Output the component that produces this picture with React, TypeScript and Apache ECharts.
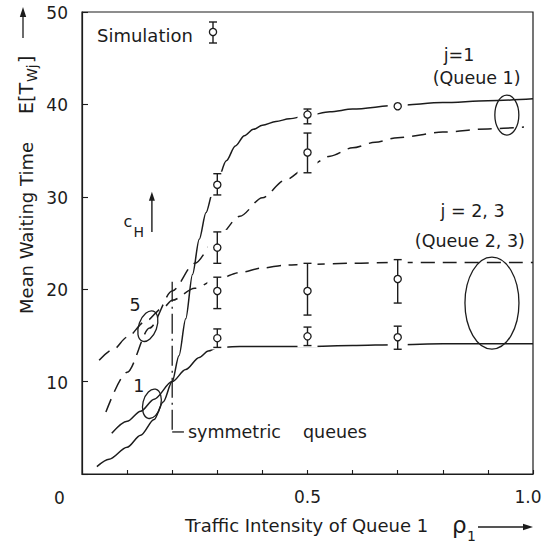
import React, { useEffect, useRef } from 'react';
import * as echarts from 'echarts';

// ---- data ----
// j = 1 (Queue 1), c_H = 1 : solid
const q1SolidX = [0.033, 0.06, 0.1, 0.13, 0.16, 0.18, 0.2, 0.215, 0.23, 0.245, 0.26, 0.275, 0.29, 0.3, 0.32, 0.34, 0.36, 0.38, 0.4, 0.43, 0.46, 0.5, 0.55, 0.6, 0.7, 0.8, 0.9, 1.0];
const q1SolidY = [0.8, 1.6, 2.9, 4.2, 5.9, 7.8, 10.0, 12.8, 16.8, 21.6, 25.4, 28.3, 30.5, 31.7, 33.9, 35.5, 36.6, 37.3, 37.75, 38.15, 38.45, 38.8, 39.2, 39.5, 39.9, 40.2, 40.4, 40.6];
// j = 1 (Queue 1), c_H = 5 : dashed
const q1DashX = [0.053, 0.1, 0.15, 0.2, 0.25, 0.3, 0.35, 0.4, 0.45, 0.5, 0.55, 0.6, 0.65, 0.7, 0.8, 0.9, 0.98];
const q1DashY = [6.7, 11.0, 15.8, 19.8, 22.8, 25.6, 27.9, 29.9, 31.8, 33.2, 34.4, 35.3, 35.9, 36.4, 37.0, 37.35, 37.55];
// j = 2,3 (Queue 2,3), c_H = 1 : solid
const q23SolidX = [0.066, 0.1, 0.13, 0.16, 0.2, 0.23, 0.26, 0.28, 0.3, 0.35, 0.4, 0.5, 0.6, 0.7, 0.8, 1.0];
const q23SolidY = [4.4, 5.7, 6.8, 8.1, 10.0, 11.3, 12.6, 13.3, 13.7, 13.8, 13.8, 13.8, 13.9, 14.0, 14.1, 14.1];
// j = 2,3 (Queue 2,3), c_H = 5 : dashed
const q23DashX = [0.038, 0.07, 0.1, 0.14, 0.18, 0.2, 0.25, 0.3, 0.35, 0.4, 0.45, 0.5, 0.6, 0.7, 0.8, 1.0];
const q23DashY = [12.3, 13.5, 14.8, 16.5, 18.0, 18.8, 20.1, 21.1, 21.8, 22.3, 22.6, 22.7, 22.8, 22.9, 22.9, 22.9];
// simulation points with confidence intervals
const simX = [0.3, 0.3, 0.3, 0.3, 0.5, 0.5, 0.5, 0.5, 0.7, 0.7, 0.7];
const simY = [31.3, 24.5, 19.8, 14.7, 38.9, 34.8, 19.8, 14.9, 39.8, 21.1, 14.8];
const simLow = [30.2, 22.8, 17.9, 13.7, 37.9, 32.6, 17.2, 13.9, 39.8, 18.5, 13.5];
const simHigh = [32.5, 26.2, 21.3, 15.7, 39.5, 36.9, 22.8, 15.9, 39.8, 23.2, 16.0];
// tick labels
const xLabelValues = [0.5, 1.0];
const xTickLabels = ['0.5', '1.0'];
const yLabelValues = [10, 20, 30, 40, 50];
const yTickLabels = ['10', '20', '30', '40', '50'];

const FONT = '"DejaVu Sans", sans-serif';
const INK = '#1c1c1c';

const zip = (xs: number[], ys: number[]) => xs.map((x, i) => [x, ys[i]]);

function txt(text: string, x: number, y: number, size: number, align = 'center', extra: any = {}) {
  return {
    type: 'text', x, y, silent: true, ...extra,
    style: {
      text, fontSize: size, fontFamily: FONT, fill: INK,
      textAlign: align, align, textVerticalAlign: 'middle', verticalAlign: 'middle',
    },
  };
}

export default function App() {
  const ref = useRef<HTMLDivElement>(null);
  useEffect(() => {
    document.body.style.margin = '0';
    const chart = echarts.init(ref.current!, null, { renderer: 'svg' });
    const lineSeries = (xs: number[], ys: number[], dashed: boolean) => ({
      type: 'line', data: zip(xs, ys), smooth: 0.3, smoothMonotone: 'x', symbol: 'none', showSymbol: false,
      silent: true, z: 2,
      lineStyle: { color: INK, width: 1.5, type: dashed ? [14, 8] : 'solid' },
    });
    chart.setOption({
      animation: false,
      grid: { left: 82, right: 9, top: 12, bottom: 72, show: true, borderColor: INK, borderWidth: 1.2, outerBoundsMode: 'none', containLabel: false },
      xAxis: {
        type: 'value', min: 0, max: 1, interval: 0.1,
        axisLine: { show: true, lineStyle: { color: INK, width: 1.2 } },
        axisTick: { show: true, inside: true, length: 4, lineStyle: { color: INK, width: 1.1 } },
        splitLine: { show: false },
        axisLabel: {
          margin: 14, fontSize: 17, fontFamily: FONT, color: INK,
          formatter: (v: number) => {
            const i = xLabelValues.findIndex((t) => Math.abs(t - v) < 1e-6);
            if (i < 0) return '';
            return i === xLabelValues.length - 1 ? '{r|' + xTickLabels[i] + '}' : xTickLabels[i];
          },
          rich: { r: { fontSize: 17, fontFamily: FONT, color: INK, padding: [0, 10, 0, 0] } },
        },
      },
      yAxis: {
        type: 'value', min: 0, max: 50, interval: 10,
        axisLine: { show: true, lineStyle: { color: INK, width: 1.2 } },
        axisTick: { show: true, inside: true, length: 6, lineStyle: { color: INK, width: 1.1 } },
        splitLine: { show: false },
        axisLabel: { show: false },
      },
      series: [
        lineSeries(q1SolidX, q1SolidY, false),
        lineSeries(q1DashX, q1DashY, true),
        lineSeries(q23SolidX, q23SolidY, false),
        lineSeries(q23DashX, q23DashY, true),
        {
          type: 'custom', z: 3, silent: true,
          data: simX.map((x, i) => [x, simY[i], simLow[i], simHigh[i]]),
          renderItem: (params: any, api: any) => {
            const x = api.value(0), y = api.value(1), lo = api.value(2), hi = api.value(3);
            const c = api.coord([x, y]);
            const l = api.coord([x, lo]);
            const h = api.coord([x, hi]);
            const top = Math.min(h[1], c[1] - 4);
            const bot = Math.max(l[1], c[1] + 4);
            const children: any[] = [
              { type: 'rect', shape: { x: c[0] - 10, y: top - 2, width: 20, height: bot - top + 4 }, style: { fill: '#fff' } },
            ];
            if (hi - lo > 0.05) {
              const st = { stroke: INK, lineWidth: 1.4 };
              children.push({ type: 'line', shape: { x1: c[0], y1: h[1], x2: c[0], y2: l[1] }, style: st });
              children.push({ type: 'line', shape: { x1: c[0] - 4, y1: h[1], x2: c[0] + 4, y2: h[1] }, style: st });
              children.push({ type: 'line', shape: { x1: c[0] - 4, y1: l[1], x2: c[0] + 4, y2: l[1] }, style: st });
            }
            children.push({ type: 'circle', shape: { cx: c[0], cy: c[1], r: 3.6 }, style: { fill: '#fff', stroke: INK, lineWidth: 1.3 } });
            return { type: 'group', children };
          },
        },
      ],
    });

    const px = (x: number, y: number) => chart.convertToPixel({ gridIndex: 0 }, [x, y]) as number[];
    const stroke = { stroke: INK, lineWidth: 1.3, fill: 'none' };
    const g: any[] = [];

    // y tick labels (placed on the axis scale)
    yLabelValues.forEach((v, i) => {
      const q = px(0, v);
      g.push(txt(yTickLabels[i], q[0] - 14, q[1] + 1, 17, 'right'));
    });

    // y axis title
    g.push(txt('Mean Waiting Time', 26, 228, 18, 'center', { rotation: Math.PI / 2 }));
    g.push(txt('E[T', 26, 114, 19, 'left', { rotation: Math.PI / 2 }));
    g.push(txt('Wj', 32, 82, 14, 'left', { rotation: Math.PI / 2 }));
    g.push(txt(']', 26, 63, 19, 'left', { rotation: Math.PI / 2 }));
    g.push({ type: 'line', silent: true, shape: { x1: 23, y1: 38, x2: 23, y2: 15 }, style: { stroke: INK, lineWidth: 1.3 } });
    g.push({ type: 'polygon', silent: true, shape: { points: [[23, 7], [19.8, 17], [26.2, 17]] }, style: { fill: INK } });

    // x axis title
    g.push(txt('Traffic Intensity of Queue 1', 185, 525, 18, 'left'));
    g.push(txt('ρ', 452, 525, 23, 'left'));
    g.push(txt('1', 467, 536, 14, 'left'));
    g.push({ type: 'line', silent: true, shape: { x1: 478, y1: 527, x2: 525, y2: 527 }, style: { stroke: INK, lineWidth: 1.3 } });
    g.push({ type: 'polygon', silent: true, shape: { points: [[533, 527], [523, 523.8], [523, 530.2]] }, style: { fill: INK } });

    // origin label
    g.push(txt('0', 59.5, 497.5, 17));

    // simulation legend
    g.push(txt('Simulation', 97, 35, 18, 'left'));
    g.push({ type: 'line', silent: true, shape: { x1: 213, y1: 22, x2: 213, y2: 43 }, style: { stroke: INK, lineWidth: 1.4 } });
    g.push({ type: 'line', silent: true, shape: { x1: 209, y1: 22, x2: 217, y2: 22 }, style: { stroke: INK, lineWidth: 1.4 } });
    g.push({ type: 'line', silent: true, shape: { x1: 209, y1: 43, x2: 217, y2: 43 }, style: { stroke: INK, lineWidth: 1.4 } });
    g.push({ type: 'circle', silent: true, shape: { cx: 213, cy: 32, r: 3.6 }, style: { fill: '#fff', stroke: INK, lineWidth: 1.3 } });

    // group labels
    let p = px(0.836, 45.4); g.push(txt('j=1', p[0], p[1], 17.5));
    p = px(0.875, 42.86); g.push(txt('(Queue 1)', p[0], p[1], 17.5));
    p = px(0.866, 28.46); g.push(txt('j = 2, 3', p[0], p[1], 17.5));
    p = px(0.86, 25.2); g.push(txt('(Queue 2, 3)', p[0], p[1], 17.5));

    // ellipses
    p = px(0.942, 38.85); g.push({ type: 'ellipse', silent: true, shape: { cx: p[0], cy: p[1], rx: 12, ry: 20 }, style: stroke });
    p = px(0.909, 18.5); g.push({ type: 'ellipse', silent: true, shape: { cx: p[0], cy: p[1], rx: 27, ry: 46 }, style: stroke });
    p = px(0.146, 16.0); g.push({ type: 'ellipse', silent: true, x: p[0], y: p[1], rotation: -0.35, shape: { cx: 0, cy: 0, rx: 9, ry: 16 }, style: stroke });
    p = px(0.155, 7.6); g.push({ type: 'ellipse', silent: true, x: p[0], y: p[1], rotation: -0.25, shape: { cx: 0, cy: 0, rx: 9, ry: 15 }, style: stroke });
    p = px(0.1175, 18.3); g.push(txt('5', p[0], p[1], 17.5));
    p = px(0.126, 9.5); g.push(txt('1', p[0], p[1], 17.5));

    // c_H arrow
    p = px(0.102, 27.3); g.push(txt('c', p[0], p[1], 16));
    p = px(0.126, 26.2); g.push(txt('H', p[0], p[1], 14));
    const a0 = px(0.155, 26.2), a1 = px(0.155, 30.55);
    g.push({ type: 'line', silent: true, shape: { x1: a0[0], y1: a0[1], x2: a0[0], y2: a1[1] + 7 }, style: { stroke: INK, lineWidth: 1.4 } });
    g.push({ type: 'polygon', silent: true, shape: { points: [[a1[0], a1[1]], [a1[0] - 3, a1[1] + 9], [a1[0] + 3, a1[1] + 9]] }, style: { fill: INK } });

    // symmetric queues marker
    const s0 = px(0.2, 20.8), s1 = px(0.2, 4.55), s2 = px(0.226, 4.55);
    g.push({ type: 'line', silent: true, shape: { x1: s0[0], y1: s0[1], x2: s1[0], y2: s1[1] }, style: { stroke: INK, lineWidth: 1.3, lineDash: [20, 5, 2, 5] } });
    g.push({ type: 'line', silent: true, shape: { x1: s1[0], y1: s1[1], x2: s2[0], y2: s2[1] }, style: { stroke: INK, lineWidth: 1.3 } });
    p = px(0.235, 4.55); g.push(txt('symmetric', p[0], p[1], 17.5, 'left'));
    p = px(0.49, 4.55); g.push(txt('queues', p[0], p[1], 17.5, 'left'));

    chart.setOption({ graphic: g });
    return () => chart.dispose();
  }, []);
  return <div ref={ref} style={{ width: 542, height: 546 }} />;
}
